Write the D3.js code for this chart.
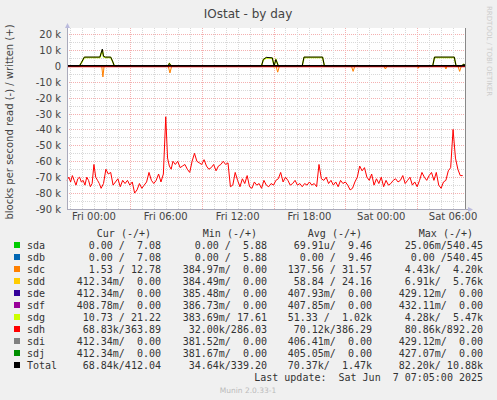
<!DOCTYPE html>
<html>
<head>
<meta charset="utf-8">
<title>IOstat - by day</title>
<script src="https://cdn.jsdelivr.net/npm/d3@7"></script>
<style>
  body { margin: 0; background: #f0f0f0; }
  text { font-family: "DejaVu Sans", sans-serif; }
  .mono { font-family: "DejaVu Sans Mono", monospace; font-size: 10px; fill: #333; white-space: pre; }
</style>
</head>
<body>
<svg id="chart" width="497" height="400"></svg>
<script>
// hours relative to Fri 00:00
var redHours = [-2.25,-2.1,-1.95,-1.8,-1.65,-1.5,-1.35,-1.2,-1.05,-0.9,-0.75,-0.6,-0.45,-0.3,-0.15,0,0.15,0.3,0.45,0.6,0.8,1.0,1.2,1.4,1.6,1.8,2.0,2.2,2.4,2.6,2.8,3.0,3.2,3.4,3.6,3.8,4.0,4.2,4.4,4.6,4.8,5.0,5.2,5.4,5.6,5.8,6.0,6.15,6.3,6.45,6.6,6.8,7.0,7.2,7.4,7.6,7.8,8.0,8.2,8.4,8.6,8.8,9.0,9.2,9.4,9.6,9.8,10.0,10.2,10.4,10.6,10.8,11.0,11.2,11.4,11.6,11.8,12.0,12.2,12.4,12.6,12.8,13.0,13.2,13.4,13.6,13.8,14.0,14.2,14.4,14.6,14.8,15.0,15.2,15.4,15.6,15.8,16.0,16.2,16.4,16.6,16.8,17.0,17.2,17.4,17.6,17.8,18.0,18.2,18.4,18.6,18.8,19.0,19.2,19.4,19.6,19.8,20.0,20.2,20.4,20.6,20.8,21.0,21.2,21.4,21.6,21.8,22.0,22.2,22.4,22.6,22.8,23.0,23.2,23.4,23.6,23.8,24.0,24.2,24.4,24.6,24.8,25.0,25.2,25.4,25.6,25.8,26.0,26.2,26.4,26.6,26.8,27.0,27.2,27.4,27.6,27.8,28.0,28.2,28.4,28.6,28.8,29.0,29.2,29.4,29.6,29.8,30.0,30.2,30.4,30.6,30.8,31.0,31.08];
var redValues = [-72,-70,-73,-69,-72,-75,-71,-70,-73,-72,-75,-70,-72,-76,-74,-62,-70,-72,-74,-77,-74,-65,-68,-67,-75,-73,-71,-76,-72,-74,-72,-75,-73,-80,-78,-74,-77,-75,-73,-67,-72,-74,-72,-68,-73,-68,-32,-58,-63,-65,-60,-62,-60,-64,-63,-62,-65,-67,-60,-55,-60,-61,-62,-59,-63,-65,-64,-62,-66,-63,-62,-60,-62,-61,-76,-75,-67,-72,-76,-71,-74,-69,-76,-77,-73,-75,-74,-77,-72,-75,-76,-74,-75,-72,-71,-67,-73,-70,-72,-75,-74,-72,-75,-74,-76,-74,-75,-73,-75,-74,-76,-62,-71,-72,-70,-74,-72,-75,-73,-76,-72,-74,-73,-75,-78,-77,-73,-70,-63,-66,-64,-70,-72,-68,-75,-71,-74,-70,-76,-72,-75,-74,-72,-71,-73,-72,-69,-74,-72,-70,-75,-73,-76,-72,-67,-70,-72,-69,-67,-72,-67,-75,-77,-73,-72,-66,-64,-40,-58,-65,-69,-69];
var totHours = [-2.25,-1.2,-1.05,-0.8,0.5,0.7,0.8,0.95,1.4,1.55,1.7,6.2,6.3,6.45,14.0,14.15,14.4,14.9,15.05,15.2,15.4,15.6,17.4,17.55,19.1,19.25,19.6,19.75,28.3,28.45,30.1,30.25,30.7,30.9,31.08];
var totValues = [0,0,2,5.5,5.5,10.5,6,5.5,5.5,3,0,0,1.5,0,0,4,5.3,5,0,4,0,0,0,5.5,5.5,0,0,0,0,5.5,5.5,0,0,1,0];
var dipHours = [-2.25,0.65,0.75,0.85,1.1,6.2,6.35,6.5,7.5,15.2,15.35,15.5,21.5,21.65,21.8,24.2,24.35,24.5,27.0,27.1,27.2,29.3,29.4,29.5,30.4,30.55,30.7,31.08];
var dipValues = [0,0,-7,0,0,0,-4.5,0,0,0,-4,0,0,-3.5,0,0,-2,0,0,-1.5,0,0,-2,0,0,-3.5,0,0];
var yTicks = [20,10,0,-10,-20,-30,-40,-50,-60,-70,-80,-90];
var xTickLabels = ["Fri 00:00","Fri 06:00","Fri 12:00","Fri 18:00","Sat 00:00","Sat 06:00"];
var legendNames = ["sda","sdb","sdc","sdd","sde","sdf","sdg","sdh","sdi","sdj","Total"];
var legendColors = ["#00cc00","#0066b3","#ff8000","#ffcc00","#330099","#990099","#ccff00","#ff0000","#808080","#008f00","#000000"];
var curCol = ["0.00 /  7.08","0.00 /  7.08","1.53 / 12.78","412.34m/  0.00","412.34m/  0.00","408.78m/  0.00","10.73 / 21.22","68.83k/363.89","412.34m/  0.00","412.34m/  0.00","68.84k/412.04"];
var minCol = ["0.00 /  5.88","0.00 /  5.88","384.97m/  0.00","384.49m/  0.00","385.48m/  0.00","386.73m/  0.00","383.69m/ 17.61","32.00k/286.03","381.52m/  0.00","381.67m/  0.00","34.64k/339.20"];
var avgCol = ["69.91u/  9.46","0.00 /  9.46","137.56 / 31.57","58.84 / 24.16","407.93m/  0.00","407.85m/  0.00","51.33 /  1.02k","70.12k/386.29","406.41m/  0.00","405.05m/  0.00","70.37k/  1.47k"];
var maxCol = ["25.06m/540.45","0.00 /540.45","4.43k/  4.20k","6.91k/  5.76k","429.12m/  0.00","432.11m/  0.00","4.28k/  5.47k","80.86k/892.20","429.12m/  0.00","427.07m/  0.00","82.20k/ 10.88k"];

var svg = d3.select("#chart");
var pL = 67, pR = 466, pT = 34, pB = 209;
var x = d3.scaleLinear().domain([-2.25, 31.08]).range([pL, pR]);
var y = d3.scaleLinear().domain([20, -90]).range([pT, pB]);

svg.append("rect").attr("x", pL).attr("y", pT - 6).attr("width", pR - pL).attr("height", pB - pT + 6).attr("fill", "#fff");

// grid
d3.range(-90, 21, 5).forEach(function (v) {
  svg.append("line").attr("x1", pL).attr("x2", pR).attr("y1", Math.round(y(v)) + 0.5).attr("y2", Math.round(y(v)) + 0.5)
    .attr("stroke", v % 10 === 0 ? "#f4b0b0" : "#d8d8d8").attr("stroke-dasharray", "1,1");
});
d3.range(-2, 32, 1).forEach(function (h) {
  var major = ((h + 3) % 6 === 0);
  svg.append("line").attr("y1", pT - 6).attr("y2", pB).attr("x1", Math.round(x(h)) + 0.5).attr("x2", Math.round(x(h)) + 0.5)
    .attr("stroke", major ? "#f4b0b0" : "#d8d8d8").attr("stroke-dasharray", "1,1");
});

var line = d3.line().x(function (d) { return x(d[0]); }).y(function (d) { return y(d[1]); });
function pts(hs, vs) { return hs.map(function (h, i) { return [h, vs[i]]; }); }

svg.append("path").datum(pts(dipHours, dipValues)).attr("d", line).attr("fill", "none").attr("stroke", "#ff8000").attr("stroke-width", 1);
svg.append("path").datum(pts(totHours, totValues.map(function (v) { return v * 0.95; }))).attr("d", line).attr("fill", "none").attr("stroke", "#ccff00").attr("stroke-width", 1.5);
svg.append("path").datum(pts(redHours, redValues)).attr("d", line).attr("fill", "none").attr("stroke", "#ff0000").attr("stroke-width", 1);
svg.append("line").attr("x1", pL).attr("x2", pR).attr("y1", y(0) + 0.5).attr("y2", y(0) + 0.5).attr("stroke", "#ff0000").attr("stroke-width", 2);
svg.append("path").datum(pts(totHours, totValues)).attr("d", line).attr("fill", "none").attr("stroke", "#000").attr("stroke-width", 1);
svg.append("line").attr("x1", pL).attr("x2", pR).attr("y1", y(0)).attr("y2", y(0)).attr("stroke", "#000").attr("stroke-width", 1.5);

// axes
svg.append("line").attr("x1", pL + 0.5).attr("x2", pL + 0.5).attr("y1", pB).attr("y2", pT - 8).attr("stroke", "#aab");
svg.append("path").attr("d", "M" + (pL - 2) + "," + (pT - 6) + "L" + (pL + 3) + "," + (pT - 6) + "L" + (pL + 0.5) + "," + (pT - 11) + "Z").attr("fill", "#bbd");
svg.append("line").attr("x1", pL).attr("x2", pR + 4).attr("y1", pB + 0.5).attr("y2", pB + 0.5).attr("stroke", "#aab");
svg.append("path").attr("d", "M" + (pR + 2) + "," + (pB - 2) + "L" + (pR + 2) + "," + (pB + 3) + "L" + (pR + 7) + "," + (pB + 0.5) + "Z").attr("fill", "#bbd");
svg.append("line").attr("x1", pR - 0.5).attr("x2", pR - 0.5).attr("y1", pT - 6).attr("y2", pB).attr("stroke", "#888");

yTicks.forEach(function (v) {
  svg.append("text").attr("x", 61).attr("y", y(v) + 4).attr("text-anchor", "end")
    .attr("font-size", 10).attr("fill", "#444").text(v === 0 ? "0" : v + " k");
});
xTickLabels.forEach(function (t, i) {
  svg.append("text").attr("x", x(i * 6)).attr("y", pB + 11).attr("text-anchor", "middle")
    .attr("font-size", 10).attr("fill", "#444").text(t);
});

svg.append("text").attr("x", 248).attr("y", 18).attr("text-anchor", "middle").attr("font-size", 12).attr("fill", "#444").text("IOstat - by day");
svg.append("text").attr("transform", "translate(13,122) rotate(-90)").attr("text-anchor", "middle")
  .attr("font-size", 10).attr("fill", "#444").text("blocks per second read (-) / written (+)");
svg.append("text").attr("transform", "translate(487,6) rotate(90)").attr("font-size", 7).attr("fill", "#ccc").text("RRDTOOL / TOBI OETIKER");

// legend
var colX = [161, 267, 372, 483], heads = ["Cur (-/+)", "Min (-/+)", "Avg (-/+)", "Max (-/+)"];
heads.forEach(function (h, i) {
  svg.append("text").attr("class", "mono").attr("x", colX[i] - 10).attr("y", 237).attr("text-anchor", "end").text(h);
});
var cols = [curCol, minCol, avgCol, maxCol];
legendNames.forEach(function (n, r) {
  var yy = 249 + r * 12;
  svg.append("rect").attr("x", 14).attr("y", yy - 7).attr("width", 6).attr("height", 6).attr("fill", legendColors[r]);
  svg.append("text").attr("class", "mono").attr("x", 27).attr("y", yy).text(n);
  cols.forEach(function (c, i) {
    svg.append("text").attr("class", "mono").attr("x", colX[i]).attr("y", yy).attr("text-anchor", "end").text(c[r]);
  });
});
svg.append("text").attr("class", "mono").attr("x", 483).attr("y", 381).attr("text-anchor", "end")
  .text("Last update:  Sat Jun  7 07:05:00 2025");
svg.append("text").attr("x", 248).attr("y", 393).attr("text-anchor", "middle").attr("font-size", 7.5).attr("fill", "#bbb").text("Munin 2.0.33-1");
</script>
</body>
</html>
